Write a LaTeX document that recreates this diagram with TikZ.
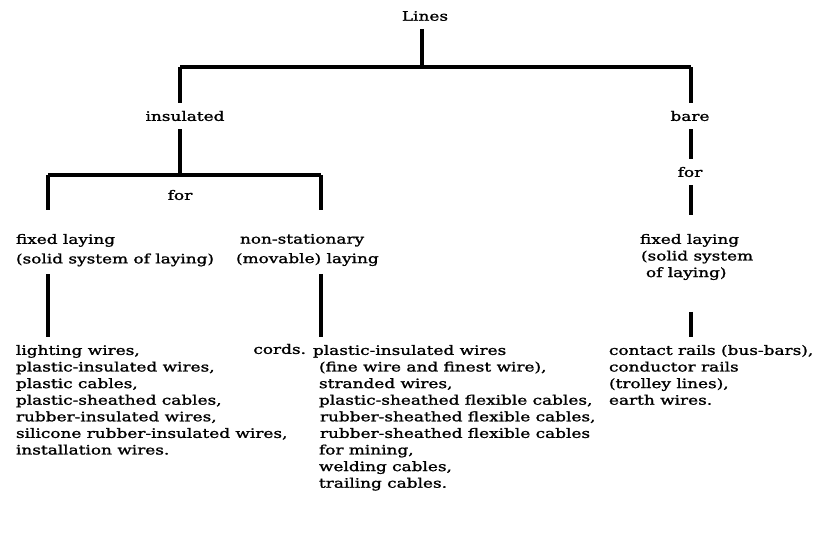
\documentclass[tikz,border=0pt]{standalone}
\usepackage{fontspec}
\setmainfont{DejaVu Serif}[FakeStretch=1.3,FakeBold=1.4]
\usepackage{tikz}
\usetikzlibrary{positioning}

\begin{document}
\begin{tikzpicture}[x=1pt,y=-1pt,
		branch/.style={line width=3.4pt},
		word/.style={inner sep=0pt, outer sep=8pt, align=left,
			font=\fontsize{13}{16.6}\selectfont}]
	\useasboundingbox (0,0) rectangle (825,536);
	% headings
	\node[word] (lines) at (425,16) {Lines};
	\node[word] (insulated) at (185,116) {insulated};
	\node[word] (bare) at (690,116) {bare};
	\node[word] (forleft) at (180,195) {for};
	\node[word] (forright) at (690,172) {for};
	\node[word, anchor=north west, font=\fontsize{13}{19.5}\selectfont] (fixedleft) at (8,226)
		{fixed laying\\(solid system of laying)};
	\node[word, anchor=north west, font=\fontsize{13}{19.5}\selectfont] (movable) at (228,226)
		{\hspace*{4pt}non-stationary\\(movable) laying};
	\node[word, anchor=north west] (fixedright) at (632,226)
		{fixed laying\\\hspace*{1pt}(solid system\\\hspace*{6pt}of laying)};
	% lists
	\node[word, anchor=north west] (listleft) at (8,337)
		{lighting wires,\\plastic-insulated wires,\\plastic cables,\\plastic-sheathed cables,\\
		rubber-insulated wires,\\silicone rubber-insulated wires,\\installation wires.};
	\node[word, anchor=east] (cords) at (314,349) {cords.};
	\node[word, anchor=north west] (listmid) at (305,337)
		{plastic-insulated wires\\\hspace*{6pt}(fine wire and finest wire),\\\hspace*{6pt}stranded wires,\\
		\hspace*{6pt}plastic-sheathed flexible cables,\\\hspace*{7pt}rubber-sheathed flexible cables,\\
		\hspace*{7pt}rubber-sheathed flexible cables\\\hspace*{6pt}for mining,\\
		\hspace*{6pt}welding cables,\\\hspace*{6pt}trailing cables.};
	\node[word, anchor=north west] (listright) at (601,337)
		{contact rails (bus-bars),\\conductor rails\\(trolley lines),\\earth wires.};
	% junctions
	\coordinate (top) at (422,67);
	\coordinate (topleft) at (180,67);
	\coordinate (topright) at (691,67);
	\coordinate (mid) at (180,175);
	\coordinate (midleft) at (48,175);
	\coordinate (midright) at (321,175);
	% connectors
	\draw[branch] (lines.south -| top) -- (top);
	\draw[branch] (topleft) -- (topright);
	\draw[branch] (topleft) -- (insulated.north -| topleft);
	\draw[branch] (topright) -- (bare.north -| topright);
	\draw[branch] (insulated.south -| mid) -- (mid);
	\draw[branch] (midleft) -- (midright);
	\draw[branch] (midleft) -- ([yshift=16pt]fixedleft.north -| midleft);
	\draw[branch] (midright) -- ([yshift=16pt]movable.north -| midright);
	\draw[branch] (fixedleft.south -| midleft) -- (listleft.north -| midleft);
	\draw[branch] (movable.south -| midright) -- (listmid.north -| midright);
	\draw[branch] (bare.south -| topright) -- (forright.north -| topright);
	\draw[branch] (forright.south -| topright) -- ([yshift=11pt]fixedright.north -| topright);
	\draw[branch] ([yshift=-24pt]fixedright.south -| topright) -- (listright.north -| topright);
\end{tikzpicture}
\end{document}
